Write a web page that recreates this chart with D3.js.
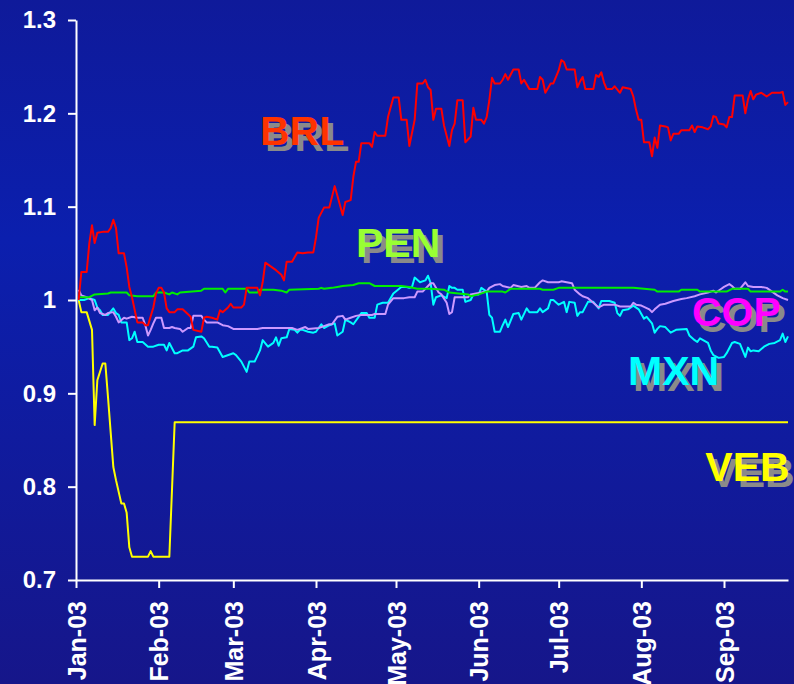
<!DOCTYPE html>
<html>
<head>
<meta charset="utf-8">
<script src="https://cdn.jsdelivr.net/npm/d3@7"></script>
<style>
  body { margin: 0; background: #0f1a9a; }
  svg { display: block; }
  .axis text { fill: #fff; font-family: "Liberation Sans", Arial, sans-serif; font-weight: bold; }
  .axis path, .axis line { stroke: #fff; stroke-width: 2; }
</style>
</head>
<body>
<script>
// values are [days since 1 Jan 2003, index level]
var brl = [[1,1.000],[2,1.030],[4,1.030],[5,1.061],[6,1.080],[7,1.061],[8,1.072],[10,1.073],[12,1.073],[13,1.077],[14,1.086],[15,1.077],[16,1.050],[18,1.050],[19,1.035],[20,1.014],[21,1.003],[23,0.976],[25,0.976],[26,0.973],[27,0.973],[29,0.992],[30,1.007],[31,1.013],[32,1.013],[33,1.008],[34,0.991],[35,0.987],[37,0.987],[38,0.990],[40,0.990],[43,0.982],[44,0.968],[47,0.966],[48,0.981],[49,0.982],[51,0.981],[53,0.979],[54,0.989],[55,0.987],[57,0.992],[58,0.996],[59,0.992],[62,0.992],[63,0.995],[64,1.013],[68,1.013],[69,1.005],[70,1.019],[71,1.040],[73,1.036],[75,1.032],[77,1.027],[78,1.021],[79,1.041],[81,1.041],[83,1.051],[85,1.050],[87,1.051],[89,1.051],[90,1.067],[91,1.088],[93,1.099],[95,1.099],[97,1.122],[98,1.112],[100,1.091],[101,1.105],[103,1.107],[104,1.132],[105,1.148],[106,1.148],[107,1.168],[110,1.168],[111,1.164],[112,1.180],[113,1.176],[116,1.176],[117,1.196],[119,1.217],[121,1.217],[122,1.193],[124,1.193],[125,1.165],[127,1.193],[128,1.232],[130,1.232],[131,1.236],[132,1.228],[133,1.225],[134,1.193],[135,1.205],[137,1.205],[138,1.187],[140,1.165],[141,1.182],[142,1.189],[143,1.214],[145,1.214],[146,1.169],[147,1.172],[148,1.175],[149,1.206],[150,1.193],[152,1.193],[153,1.189],[154,1.196],[155,1.214],[156,1.238],[157,1.232],[159,1.232],[160,1.236],[161,1.242],[162,1.236],[164,1.247],[166,1.247],[167,1.232],[168,1.236],[170,1.226],[173,1.226],[174,1.239],[175,1.236],[176,1.222],[178,1.232],[179,1.232],[181,1.246],[182,1.257],[183,1.255],[184,1.247],[187,1.247],[188,1.228],[189,1.234],[190,1.239],[191,1.226],[194,1.226],[195,1.241],[196,1.239],[197,1.244],[198,1.233],[199,1.226],[201,1.226],[202,1.229],[204,1.222],[205,1.228],[208,1.226],[209,1.218],[210,1.204],[211,1.193],[212,1.193],[213,1.169],[215,1.169],[216,1.154],[217,1.174],[218,1.163],[219,1.187],[221,1.186],[222,1.185],[223,1.171],[224,1.178],[226,1.178],[227,1.182],[230,1.182],[231,1.187],[232,1.180],[233,1.186],[235,1.185],[237,1.183],[238,1.186],[239,1.197],[240,1.196],[241,1.189],[243,1.188],[244,1.185],[245,1.196],[246,1.196],[247,1.219],[250,1.219],[251,1.200],[252,1.215],[253,1.224],[254,1.215],[255,1.220],[257,1.222],[259,1.218],[261,1.222],[264,1.222],[265,1.223],[266,1.209],[267,1.212]];

var pen = [[1,1.003],[5,1.003],[7,1.006],[12,1.007],[13,1.008],[19,1.008],[20,1.005],[23,1.004],[29,1.004],[30,1.008],[33,1.008],[35,1.006],[36,1.008],[38,1.006],[39,1.008],[47,1.010],[48,1.012],[55,1.012],[56,1.008],[57,1.012],[64,1.012],[65,1.008],[68,1.008],[69,1.011],[74,1.011],[77,1.010],[79,1.008],[80,1.011],[91,1.012],[92,1.013],[93,1.012],[96,1.013],[98,1.014],[100,1.015],[104,1.016],[106,1.018],[110,1.018],[112,1.015],[122,1.015],[125,1.014],[128,1.012],[133,1.012],[138,1.011],[140,1.008],[147,1.006],[148,1.004],[151,1.006],[154,1.009],[160,1.009],[161,1.008],[163,1.012],[174,1.012],[175,1.011],[179,1.011],[181,1.013],[209,1.013],[217,1.011],[218,1.009],[226,1.009],[227,1.011],[233,1.011],[234,1.009],[244,1.009],[246,1.012],[252,1.012],[253,1.009],[264,1.009],[265,1.011],[266,1.009],[267,1.009]];

var mxn = [[1,1.000],[3,1.000],[5,1.002],[7,1.000],[8,0.992],[9,0.989],[10,0.984],[12,0.984],[14,0.991],[15,0.986],[16,0.984],[17,0.976],[19,0.976],[20,0.957],[21,0.959],[22,0.966],[23,0.955],[25,0.955],[27,0.950],[29,0.950],[31,0.952],[33,0.952],[34,0.946],[35,0.954],[37,0.943],[38,0.943],[40,0.946],[42,0.946],[44,0.950],[45,0.960],[47,0.961],[48,0.959],[50,0.950],[51,0.950],[53,0.949],[55,0.939],[59,0.943],[60,0.941],[62,0.934],[64,0.923],[65,0.934],[67,0.934],[69,0.946],[70,0.957],[72,0.950],[74,0.954],[75,0.960],[76,0.951],[77,0.959],[79,0.960],[80,0.969],[82,0.968],[83,0.965],[84,0.968],[85,0.968],[87,0.966],[89,0.965],[90,0.966],[92,0.974],[93,0.970],[95,0.973],[97,0.975],[98,0.962],[100,0.966],[101,0.979],[103,0.976],[104,0.974],[107,0.986],[109,0.986],[110,0.981],[112,0.981],[113,0.995],[115,0.997],[117,0.997],[119,1.007],[122,1.014],[124,1.014],[125,1.013],[126,1.014],[127,1.024],[129,1.019],[131,1.021],[132,1.026],[133,1.018],[134,0.995],[135,1.003],[137,1.005],[139,1.002],[140,1.015],[141,1.013],[142,1.013],[143,1.011],[145,1.011],[146,0.998],[148,1.000],[149,1.006],[151,1.006],[152,1.013],[154,1.009],[155,0.984],[156,0.981],[157,0.966],[159,0.966],[160,0.973],[161,0.979],[162,0.971],[164,0.985],[166,0.986],[167,0.979],[169,0.991],[170,0.987],[173,0.987],[174,0.991],[175,0.987],[177,0.991],[178,1.000],[179,1.000],[181,0.995],[183,0.998],[184,0.987],[185,0.998],[187,0.997],[188,0.983],[189,0.987],[190,0.987],[192,0.998],[194,0.998],[196,0.991],[197,0.999],[200,0.999],[202,0.997],[203,0.986],[204,0.983],[205,0.989],[207,0.990],[209,0.994],[211,0.990],[213,0.980],[214,0.982],[216,0.975],[217,0.965],[218,0.969],[219,0.972],[221,0.971],[223,0.965],[225,0.968],[229,0.969],[230,0.962],[232,0.957],[233,0.955],[234,0.959],[237,0.954],[238,0.946],[239,0.941],[241,0.938],[243,0.939],[244,0.943],[246,0.954],[247,0.955],[249,0.953],[251,0.939],[252,0.949],[253,0.945],[254,0.946],[256,0.945],[258,0.950],[260,0.953],[262,0.954],[264,0.957],[265,0.964],[266,0.955],[267,0.961]];

var cop = [[1,1.011],[2,1.005],[4,1.003],[6,1.000],[7,0.989],[8,0.992],[9,0.986],[11,0.984],[12,0.986],[14,0.987],[15,0.982],[16,0.976],[18,0.981],[19,0.980],[21,0.982],[23,0.981],[25,0.981],[26,0.973],[27,0.962],[28,0.968],[29,0.975],[30,0.981],[32,0.981],[33,0.970],[35,0.970],[36,0.971],[37,0.970],[39,0.969],[40,0.966],[42,0.970],[43,0.970],[44,0.983],[47,0.983],[48,0.979],[49,0.976],[53,0.976],[55,0.973],[57,0.972],[59,0.969],[68,0.969],[70,0.970],[77,0.970],[81,0.970],[83,0.968],[85,0.970],[86,0.971],[87,0.969],[91,0.970],[93,0.972],[95,0.974],[96,0.974],[98,0.982],[100,0.983],[101,0.979],[103,0.981],[105,0.983],[107,0.984],[111,0.984],[112,0.985],[116,0.985],[117,0.995],[119,1.002],[123,1.002],[125,1.003],[127,1.003],[128,1.009],[130,1.009],[132,1.015],[133,1.018],[134,1.018],[136,1.008],[137,1.006],[139,0.997],[140,0.985],[141,0.987],[142,1.003],[147,1.003],[148,1.006],[154,1.009],[155,1.013],[157,1.016],[159,1.017],[160,1.015],[163,1.013],[164,1.016],[167,1.014],[169,1.015],[170,1.013],[172,1.013],[174,1.019],[175,1.021],[177,1.019],[181,1.019],[182,1.020],[184,1.019],[186,1.018],[187,1.011],[189,1.006],[190,1.004],[192,1.002],[194,0.997],[196,0.992],[198,0.995],[202,0.995],[204,0.993],[208,0.993],[209,0.997],[210,0.995],[212,0.994],[215,0.990],[216,0.987],[217,0.990],[219,0.995],[221,0.996],[224,0.999],[227,1.001],[229,1.002],[232,1.004],[234,1.006],[237,1.008],[239,1.010],[240,1.008],[242,1.012],[243,1.014],[245,1.017],[246,1.015],[247,1.012],[249,1.012],[251,1.019],[252,1.015],[254,1.014],[257,1.014],[259,1.013],[261,1.009],[263,1.005],[265,1.002],[267,1.000]];

var veb = [[1,1.000],[2,0.987],[4,0.987],[6,0.968],[7,0.866],[8,0.914],[10,0.932],[11,0.932],[12,0.896],[14,0.821],[15,0.807],[17,0.782],[18,0.782],[19,0.772],[20,0.735],[21,0.725],[27,0.725],[28,0.731],[29,0.725],[35,0.725],[37,0.869],[267,0.869]];

var currencies = ["VEB","MXN","COP","PEN","BRL"];
var seriesData = [veb, mxn, cop, pen, brl];
var lineColors = ["#ffff00","#00ffff","#cc99ff","#00ee00","#ff0000"];
var textColors = ["#ffff00","#00ffff","#ff00ff","#99ff33","#ff3300"];
// label anchor [day, level]
var labelAt = [[236,0.806],[207,0.909],[231,0.972],[105,1.046],[69,1.166]];
var yTicks = [0.7, 0.8, 0.9, 1, 1.1, 1.2, 1.3];

var width = 794, height = 684;
var start = new Date(2003, 0, 1);
function toDate(day) { return d3.timeDay.offset(start, day); }

var svg = d3.select("body").append("svg")
  .attr("width", width)
  .attr("height", height);

var grad = svg.append("defs").append("linearGradient")
  .attr("id", "bg").attr("x1", 0).attr("y1", 0).attr("x2", 0).attr("y2", 1);
grad.append("stop").attr("offset", "0%").attr("stop-color", "#0f1a9a");
grad.append("stop").attr("offset", "35%").attr("stop-color", "#0b1fae");
grad.append("stop").attr("offset", "100%").attr("stop-color", "#16168a");

svg.append("rect").attr("width", width).attr("height", height).attr("fill", "url(#bg)");

var x = d3.scaleTime()
  .domain([start, new Date(2003, 8, 25)])
  .range([76, 788]);
var y = d3.scaleLinear()
  .domain([0.7, 1.3])
  .range([580, 20]);

var line = d3.line()
  .x(function(d) { return x(toDate(d[0])); })
  .y(function(d) { return y(d[1]); });

// series labels with grey drop shadow
currencies.forEach(function(name, i) {
  var px = x(toDate(labelAt[i][0])), py = y(labelAt[i][1]);
  var g = svg.append("g")
    .attr("font-family", "'Liberation Sans', Arial, sans-serif")
    .attr("font-weight", "bold")
    .attr("font-size", 41);
  g.append("text").attr("x", px + 5).attr("y", py + 6).attr("fill", "#8a8a8a").text(name);
  g.append("text").attr("x", px).attr("y", py).attr("fill", textColors[i]).text(name);
});

svg.append("g").selectAll("path")
  .data(seriesData)
  .enter()
  .append("path")
    .attr("d", line)
    .attr("fill", "none")
    .attr("stroke", function(d, i) { return lineColors[i]; })
    .attr("stroke-width", 2)
    .attr("stroke-linejoin", "round");

var yAxis = svg.append("g")
  .attr("class", "axis")
  .attr("transform", "translate(76,0)")
  .call(d3.axisLeft(y).tickValues(yTicks).tickFormat(function(d) { return String(d); })
    .tickSize(8).tickSizeOuter(0).tickPadding(12));
yAxis.selectAll("text").attr("font-size", 24);

var xAxis = svg.append("g")
  .attr("class", "axis")
  .attr("transform", "translate(0,580)")
  .call(d3.axisBottom(x).ticks(d3.timeMonth.every(1)).tickFormat(d3.timeFormat("%b-%y"))
    .tickSize(8).tickSizeOuter(0));
xAxis.selectAll("text")
  .attr("font-size", 25)
  .attr("transform", "rotate(-90)")
  .attr("x", -21)
  .attr("y", 0)
  .attr("dy", "0.36em")
  .style("text-anchor", "end");
</script>
</body>
</html>
